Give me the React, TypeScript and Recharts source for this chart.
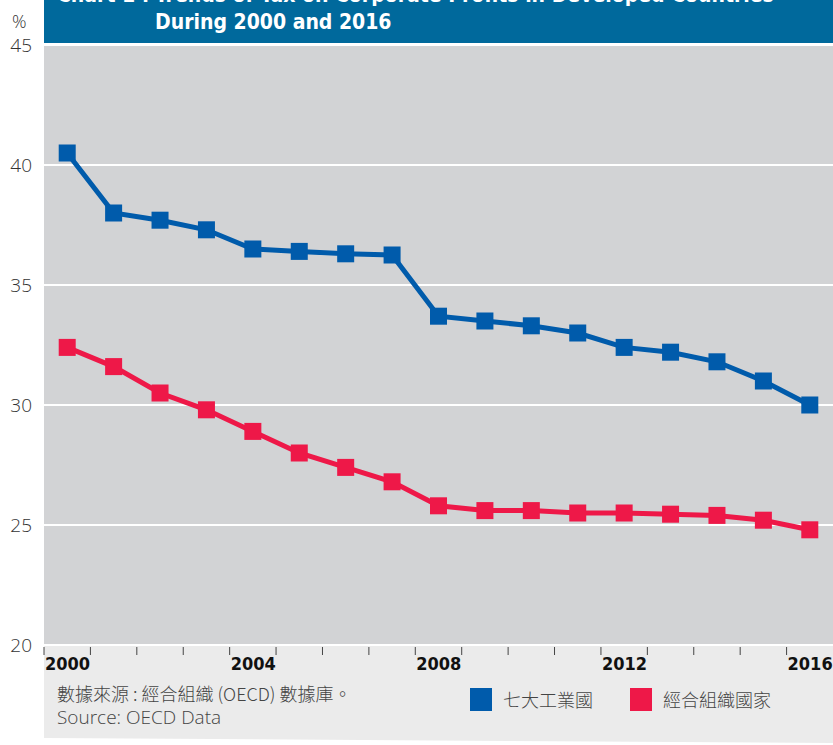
import React from "react";
import { LineChart, Line, XAxis, YAxis, CartesianGrid } from "recharts";

const years = [2000, 2001, 2002, 2003, 2004, 2005, 2006, 2007, 2008, 2009, 2010, 2011, 2012, 2013, 2014, 2015, 2016];
const g7 = [40.5, 38.0, 37.7, 37.3, 36.5, 36.4, 36.3, 36.25, 33.7, 33.5, 33.3, 33.0, 32.4, 32.2, 31.8, 31.0, 30.0];
const oecd = [32.4, 31.6, 30.5, 29.8, 28.9, 28.0, 27.4, 26.8, 25.8, 25.6, 25.6, 25.5, 25.5, 25.45, 25.4, 25.2, 24.8];
const yTicks = [20, 25, 30, 35, 40, 45];
const xBoundaryTicks = [1999.5, 2000.5, 2001.5, 2002.5, 2003.5, 2004.5, 2005.5, 2006.5, 2007.5, 2008.5, 2009.5, 2010.5, 2011.5, 2012.5, 2013.5, 2014.5, 2015.5];
const xLabelYears = ["2000", "2004", "2008", "2012", "2016"];

const titleLine1a = "Chart 1 :";
const titleLine1b = "Trends of Tax on Corporate Profits in Developed Countries";
const titleLine2 = "During 2000 and 2016";
const sourceZh = "數據來源 : 經合組織 (OECD) 數據庫。";
const sourceEn = "Source: OECD Data";
const seriesNames = ["七大工業國", "經合組織國家"];

const BLUE = "#005bab";
const RED = "#ee1848";

const data = years.map((y, i) => ({ year: y, g7: g7[i], oecd: oecd[i] }));

const makeDot = (color: string) => (props: any) => {
  const { cx, cy, index } = props;
  if (cx == null || cy == null) return <g key={index} />;
  return <rect key={index} x={cx - 8.5} y={cy - 8.5} width={17} height={17} fill={color} />;
};

const XTick = (props: any) => {
  const { x, y, payload } = props;
  const label = String(payload.value + 0.5);
  const show = xLabelYears.includes(label);
  return (
    <g>
      <line x1={x} x2={x} y1={y - 6} y2={y + 2} stroke="#444" strokeWidth={1} />
      {show && (
        <text
          x={x + 1}
          y={y + 17}
          textAnchor="start"
          fontFamily="'Liberation Sans Narrow', 'DejaVu Sans Condensed', sans-serif"
          fontWeight={700}
          fontSize={18}
          fill="#111"
        >
          {label}
        </text>
      )}
    </g>
  );
};

export default function App() {
  return (
    <div style={{ position: "absolute", left: 0, top: 0, width: 833, height: 745, background: "#fff" }}>
      <svg width={833} height={745} style={{ position: "absolute", left: 0, top: 0 }}>
        <rect x={44} y={0} width={789} height={43} fill="#00699c" />
        <text x={57} y={2} fill="#fff" fontFamily="'Liberation Sans Narrow', 'DejaVu Sans Condensed', sans-serif" fontWeight={700} fontSize={21}>
          {titleLine1a}
        </text>
        <text x={155} y={2} fill="#fff" fontFamily="'Liberation Sans Narrow', 'DejaVu Sans Condensed', sans-serif" fontWeight={700} fontSize={21}>
          {titleLine1b}
        </text>
        <text x={155} y={29} fill="#fff" fontFamily="'Liberation Sans Narrow', 'DejaVu Sans Condensed', sans-serif" fontWeight={700} fontSize={21}>
          {titleLine2}
        </text>
        <polygon points="44,645 833,645 833,743 44,738" fill="#ebebeb" />
        <text x={12} y={28} fontFamily="'Open Sans', sans-serif" fontWeight={300} fontSize={18} fill="#333">%</text>
        <text x={57} y={701} fontFamily="'Noto Sans CJK TC', sans-serif" fontWeight={300} fontSize={18} fill="#444">
          {sourceZh}
        </text>
        <text x={57} y={724} fontFamily="'Open Sans', sans-serif" fontWeight={300} fontSize={19} fill="#444">
          {sourceEn}
        </text>
        <rect x={470} y={688} width={22} height={23} fill={BLUE} />
        <text x={503} y={707} fontFamily="'Noto Sans CJK TC', sans-serif" fontWeight={300} fontSize={18} fill="#444">
          {seriesNames[0]}
        </text>
        <rect x={630} y={688} width={22} height={23} fill={RED} />
        <text x={663} y={707} fontFamily="'Noto Sans CJK TC', sans-serif" fontWeight={300} fontSize={18} fill="#444">
          {seriesNames[1]}
        </text>
      </svg>
      <div style={{ position: "absolute", left: 0, top: 0 }}>
        <LineChart width={833} height={745} data={data} margin={{ top: 45, right: 0, bottom: 0, left: 0 }}>
          <CartesianGrid vertical={false} horizontal={true} stroke="#ffffff" strokeWidth={2} fill="#d2d3d5" fillOpacity={1} />
          <XAxis
            dataKey="year"
            type="number"
            domain={[1999.5, 2016.5]}
            ticks={xBoundaryTicks}
            allowDataOverflow
            axisLine={false}
            tickLine={false}
            tick={<XTick />}
            interval={0}
            height={100}
          />
          <YAxis
            domain={[20, 45]}
            ticks={yTicks}
            width={44}
            axisLine={false}
            tickLine={false}
            tickMargin={6}
            tick={{ fontFamily: "'Open Sans', sans-serif", fontWeight: 300, fontSize: 19, fill: "#333" }}
          />
          <Line dataKey="g7" type="linear" stroke={BLUE} strokeWidth={5} dot={makeDot(BLUE)} activeDot={false} isAnimationActive={false} />
          <Line dataKey="oecd" type="linear" stroke={RED} strokeWidth={5} dot={makeDot(RED)} activeDot={false} isAnimationActive={false} />
        </LineChart>
      </div>
    </div>
  );
}
